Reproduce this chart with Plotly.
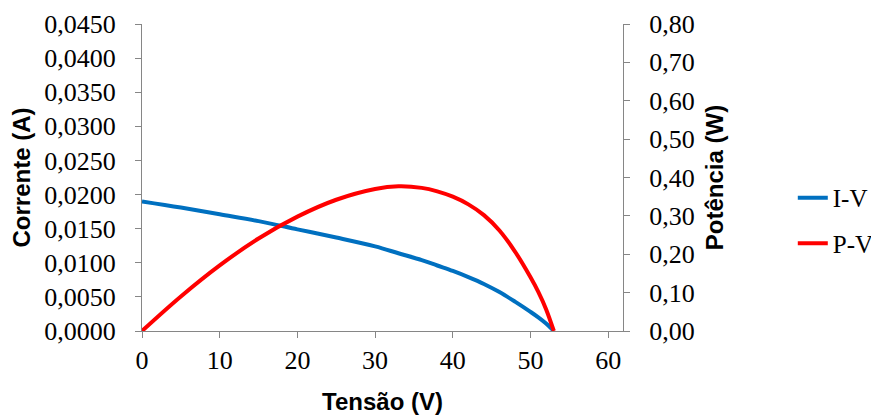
import plotly.graph_objects as go

# Data
tensao = [0, 5, 10, 15, 20, 25, 30, 33, 36, 38, 40, 42, 44, 46, 48, 50, 51, 52, 53]
corrente = [0.0190, 0.0181, 0.0171, 0.0161, 0.0149, 0.0137, 0.0124, 0.0114, 0.0104,
            0.0096, 0.0088, 0.0079, 0.0069, 0.0057, 0.0043, 0.0028, 0.0020, 0.0011, 0.0000]
potencia = [0.000, 0.090, 0.171, 0.241, 0.298, 0.342, 0.370, 0.377, 0.373,
            0.364, 0.350, 0.330, 0.302, 0.262, 0.207, 0.140, 0.102, 0.057, 0.000]

axis_color = "#868686"
tick_font = dict(family="Liberation Serif", size=26, color="#000000")
legend_font = dict(family="Liberation Serif", size=25, color="#000000")
title_font = dict(family="Liberation Sans", size=24, color="#000000")

fig = go.Figure()
fig.add_trace(go.Scatter(x=tensao, y=corrente, name="I-V", mode="lines",
                         legendgroup="iv",
                         line=dict(color="#0070C0", width=4, shape="spline"),
                         yaxis="y"))
fig.add_trace(go.Scatter(x=tensao, y=potencia, name="P-V", mode="lines",
                         legendgroup="pv",
                         line=dict(color="#FF0000", width=4, shape="spline"),
                         yaxis="y2"))

# page body has an 8px margin, so the figure is 8px smaller than the window
fig.update_layout(
    width=871, height=409,
    margin=dict(l=134, r=256, t=16, b=86, autoexpand=False),
    paper_bgcolor="white", plot_bgcolor="white",
    separators=",.",
    showlegend=True,
    legend=dict(x=1.353, y=0.36, xanchor="left", yanchor="middle",
                font=legend_font, bgcolor="rgba(0,0,0,0)",
                traceorder="grouped", tracegroupgap=10),
    xaxis=dict(range=[0, 61.9], tick0=0, dtick=10, showgrid=False, zeroline=False,
               showline=True, linecolor=axis_color, linewidth=1, automargin=False,
               ticks="outside", ticklen=6, tickcolor=axis_color,
               tickfont=tick_font,
               title=dict(text="<b>Tensão (V)</b>", font=title_font, standoff=18)),
    yaxis=dict(range=[0, 0.045], tick0=0, dtick=0.005, tickformat=".4f",
               showgrid=False, zeroline=False, automargin=False,
               showline=True, linecolor=axis_color, linewidth=1,
               ticks="outside", ticklen=6, tickcolor=axis_color,
               tickfont=tick_font, ticklabelstandoff=14,
               title=dict(text="<b>Corrente (A)</b>", font=title_font, standoff=10)),
    yaxis2=dict(range=[0, 0.80], tick0=0, dtick=0.10, tickformat=".2f",
                overlaying="y", side="right", showgrid=False, zeroline=False,
                automargin=False,
                showline=True, linecolor=axis_color, linewidth=1,
                ticks="outside", ticklen=6, tickcolor=axis_color,
                tickfont=tick_font, ticklabelstandoff=14,
                title=dict(text="<b>Potência (W)</b>", font=title_font, standoff=12)),
)

fig.write_html("out.html")
